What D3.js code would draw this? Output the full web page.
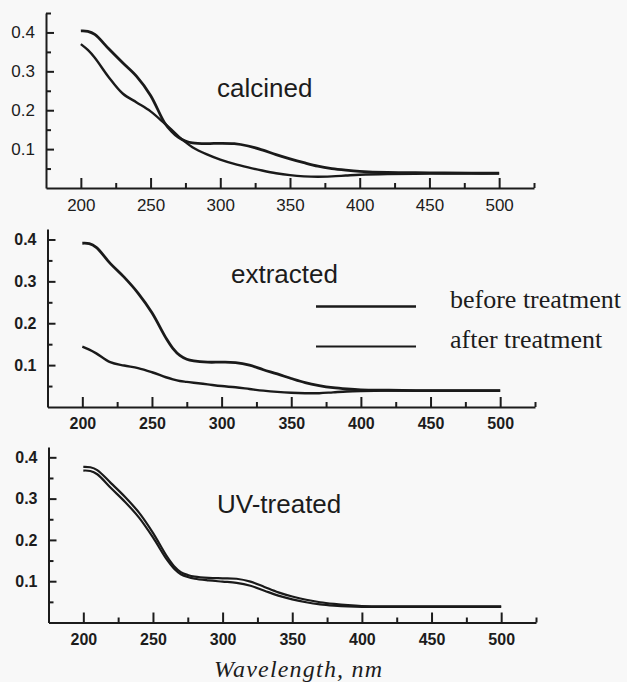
<!DOCTYPE html>
<html>
<head>
<meta charset="utf-8">
<script src="https://cdn.jsdelivr.net/npm/d3@7"></script>
<style>
  html, body { margin: 0; padding: 0; background: #f8f8f8; }
  svg { display: block; }
  .axis path, .axis line { stroke: #1c1c1c; stroke-width: 2; }
  .axis text { fill: #1c1c1c; font-family: "Liberation Sans", Arial, sans-serif; }
</style>
</head>
<body>
<script>
// wavelength grid (nm) shared by every spectrum
var wavelengths = [200, 205, 210, 220, 230, 240, 250, 260, 265, 270, 275, 280, 290, 300, 310, 320, 330, 340, 350, 360, 370, 380, 390, 400, 420, 450, 480, 500];

// absorbance
var calcinedBefore  = [0.404, 0.403, 0.395, 0.358, 0.322, 0.287, 0.238, 0.168, 0.146, 0.130, 0.121, 0.116, 0.114, 0.115, 0.114, 0.108, 0.098, 0.086, 0.075, 0.065, 0.056, 0.050, 0.046, 0.043, 0.040, 0.039, 0.038, 0.038];
var calcinedAfter   = [0.370, 0.355, 0.335, 0.285, 0.243, 0.220, 0.197, 0.166, 0.150, 0.133, 0.118, 0.105, 0.087, 0.073, 0.062, 0.053, 0.045, 0.038, 0.033, 0.030, 0.029, 0.030, 0.032, 0.034, 0.036, 0.037, 0.037, 0.037];
var extractedBefore = [0.391, 0.390, 0.381, 0.343, 0.310, 0.272, 0.225, 0.165, 0.140, 0.123, 0.114, 0.110, 0.107, 0.107, 0.106, 0.100, 0.089, 0.079, 0.068, 0.058, 0.051, 0.046, 0.043, 0.041, 0.040, 0.039, 0.039, 0.039];
var extractedAfter  = [0.144, 0.137, 0.128, 0.107, 0.099, 0.093, 0.083, 0.071, 0.066, 0.062, 0.060, 0.058, 0.054, 0.050, 0.047, 0.043, 0.039, 0.036, 0.034, 0.033, 0.033, 0.035, 0.037, 0.038, 0.039, 0.039, 0.039, 0.039];
var uvBefore        = [0.377, 0.376, 0.369, 0.337, 0.304, 0.266, 0.217, 0.160, 0.137, 0.122, 0.115, 0.111, 0.108, 0.107, 0.106, 0.099, 0.086, 0.073, 0.063, 0.055, 0.049, 0.045, 0.042, 0.040, 0.039, 0.039, 0.039, 0.039];
var uvAfter         = [0.368, 0.367, 0.359, 0.325, 0.292, 0.254, 0.206, 0.152, 0.131, 0.117, 0.110, 0.106, 0.102, 0.099, 0.096, 0.089, 0.077, 0.065, 0.056, 0.049, 0.044, 0.041, 0.039, 0.038, 0.038, 0.038, 0.038, 0.038];

var panelNames = ['calcined', 'extracted', 'UV-treated'];
var legendLabels = ['before treatment', 'after treatment'];
var xMajorTicks = [200, 250, 300, 350, 400, 450, 500];
var xMinorTicks = [225, 275, 325, 375, 425, 475, 525];
var yMajorTicks = [0.1, 0.2, 0.3, 0.4];
var yMinorTicks = [0.05, 0.15, 0.25, 0.35, 0.45];

var width = 627, height = 682;

var svg = d3.select('body')
  .append('svg')
  .attr('width', width)
  .attr('height', height);

// layout of each panel
var panels = [
  {name: panelNames[0], before: calcinedBefore, after: calcinedAfter,
   xr: [46, 534], yr: [188, 13], ymax: 0.45, label: [217, 97], bold: false, fs: 17, lw: [2.8, 2.4]},
  {name: panelNames[1], before: extractedBefore, after: extractedAfter,
   xr: [47.5, 535], yr: [407, 229], ymax: 0.425, label: [231, 283], bold: true, fs: 16, lw: [2.8, 2.4]},
  {name: panelNames[2], before: uvBefore, after: uvAfter,
   xr: [48.5, 536], yr: [622.5, 447], ymax: 0.425, label: [217, 513], bold: true, fs: 16, lw: [2.2, 2.2]}
];

panels.forEach(function(p) {
  var x = d3.scaleLinear().domain([175, 525]).range(p.xr);
  var y = d3.scaleLinear().domain([0, p.ymax]).range(p.yr);
  var g = svg.append('g');

  var xAxis = d3.axisBottom(x).tickValues(xMajorTicks).tickSizeInner(-10).tickSizeOuter(0).tickPadding(11);
  var xMinor = d3.axisBottom(x).tickValues(xMinorTicks).tickSizeInner(-5).tickSizeOuter(0).tickFormat('');
  var yAxis = d3.axisLeft(y).tickValues(yMajorTicks).tickSizeInner(-8).tickSizeOuter(0).tickPadding(11)
      .tickFormat(d3.format('.1f'));
  var yMinor = d3.axisLeft(y).tickValues(yMinorTicks.filter(function(v){ return v <= p.ymax; }))
      .tickSizeInner(-5).tickSizeOuter(0).tickFormat('');

  var gx = g.append('g').attr('class', 'axis x').attr('transform', 'translate(0,' + p.yr[0] + ')').call(xAxis);
  g.append('g').attr('class', 'axis x').attr('transform', 'translate(0,' + p.yr[0] + ')').call(xMinor)
    .select('.domain').remove();
  var gy = g.append('g').attr('class', 'axis y').attr('transform', 'translate(' + p.xr[0] + ',0)').call(yAxis);
  g.append('g').attr('class', 'axis y').attr('transform', 'translate(' + p.xr[0] + ',0)').call(yMinor)
    .select('.domain').remove();

  [gx, gy].forEach(function(a) {
    a.selectAll('text')
      .attr('font-size', p.fs)
      .attr('font-weight', p.bold ? 'bold' : 'normal');
  });

  var line = d3.line()
    .x(function(d, i) { return x(wavelengths[i]); })
    .y(function(d) { return y(d); })
    .curve(d3.curveCatmullRom.alpha(0.5));

  g.append('path')
    .attr('fill', 'none')
    .attr('stroke', '#1a1a1a')
    .attr('stroke-width', p.lw[1])
    .attr('stroke-linejoin', 'round')
    .attr('d', line(p.after));

  g.append('path')
    .attr('fill', 'none')
    .attr('stroke', '#1a1a1a')
    .attr('stroke-width', p.lw[0])
    .attr('stroke-linejoin', 'round')
    .attr('d', line(p.before));

  g.append('text')
    .attr('x', p.label[0])
    .attr('y', p.label[1])
    .attr('font-family', '"Liberation Sans", Arial, sans-serif')
    .attr('font-size', 26)
    .attr('fill', '#1c1c1c')
    .text(p.name);
});

// legend
var legend = svg.append('g');
legend.selectAll('line')
  .data(legendLabels)
  .enter()
  .append('line')
  .attr('x1', 316).attr('x2', 416)
  .attr('y1', function(d, i) { return 306.5 + i * 40; })
  .attr('y2', function(d, i) { return 306.5 + i * 40; })
  .attr('stroke', '#1a1a1a')
  .attr('stroke-width', function(d, i) { return i === 0 ? 2.6 : 1.8; });

legend.selectAll('text')
  .data(legendLabels)
  .enter()
  .append('text')
  .attr('x', 450)
  .attr('y', function(d, i) { return 308 + i * 40; })
  .attr('font-family', '"Liberation Serif", "Times New Roman", serif')
  .attr('font-size', 26)
  .attr('fill', '#1c1c1c')
  .text(function(d) { return d; });

// x-axis title
svg.append('text')
  .attr('x', 214)
  .attr('y', 677)
  .attr('font-family', '"Liberation Serif", "Times New Roman", serif')
  .attr('font-style', 'italic')
  .attr('font-size', 24)
  .attr('letter-spacing', 1.2)
  .attr('fill', '#1c1c1c')
  .text('Wavelength, nm');
</script>
</body>
</html>
